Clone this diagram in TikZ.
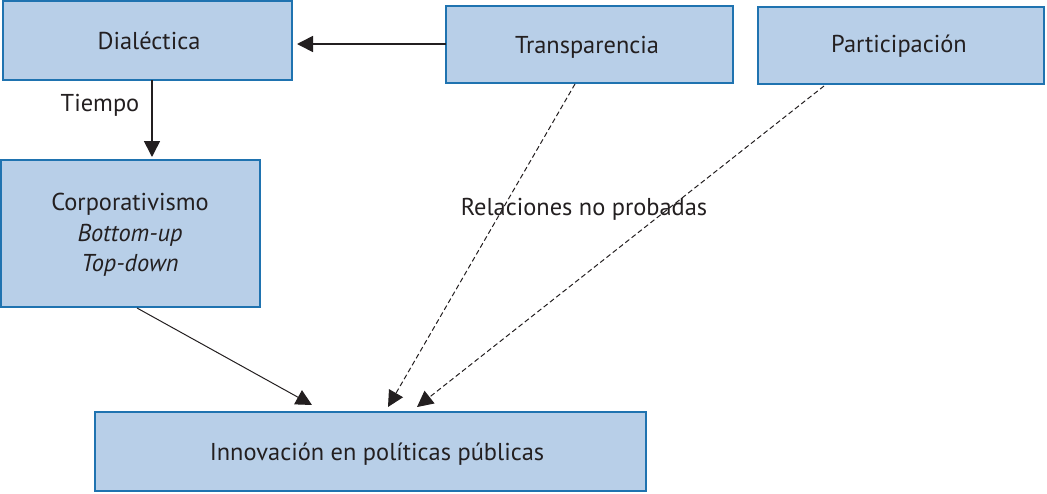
\documentclass[tikz,border=0pt]{standalone}
\usepackage{fontspec}
\setmainfont{PT Sans}
\usetikzlibrary{arrows.meta,calc}
\definecolor{boxfill}{HTML}{B8CFE8}
\definecolor{boxline}{HTML}{1F73B0}
\definecolor{txt}{HTML}{231F20}
\begin{document}
\begin{tikzpicture}[x=1pt,y=-1pt,
  box/.style={draw=boxline,line width=2pt,fill=boxfill,inner sep=0pt},
  lbl/.style={text=txt,font=\fontsize{24.4}{30.5}\selectfont,inner sep=0pt,align=center},
  arr/.style={draw=txt,-{Triangle[length=16pt,width=16pt]}},
  dsh/.style={arr,dash pattern=on 5pt off 3pt}]
\useasboundingbox (0,0) rectangle (1047,493);
% boxes
\path[box] (3,1) rectangle (292,80);
\path[box] (446,6) rectangle (733,83);
\path[box] (758,7) rectangle (1044,84);
\path[box] (1,160) rectangle (260,307);
\path[box] (95,412) rectangle (646,491);
\node[lbl] (dia) at (149,41) {Dialéctica};
\node[lbl] (tra) at (587,47) {Transparencia};
\node[lbl] (par) at (899,46) {Participación};
\node[lbl] (cor) at (130,235) {Corporativismo\\\textit{Bottom-up}\\\textit{Top-down}};
\node[lbl] (inn) at (377,454) {Innovación en políticas públicas};
\node[lbl] (tiempo) at (100,105) {Tiempo};
\node[lbl] (rel) at (584,209) {Relaciones no probadas};
% anchor points
\coordinate (traL) at (446,44);
\coordinate (diaR) at (297,44);
\coordinate (diaB) at (152,80);
\coordinate (corT) at (152,157);
\coordinate (corB) at (137,308);
\coordinate (innA) at (312,405);
\coordinate (traB) at (575,84);
\coordinate (innB) at (388,407);
\coordinate (parB) at (824,86);
\coordinate (innC) at (417,407);
% connectors
\draw[arr,line width=1.6pt] (traL) -- (diaR);
\draw[arr,line width=1.6pt] (diaB) -- (corT);
\draw[arr,line width=1pt] (corB) -- (innA);
\draw[dsh,line width=1pt] (traB) -- (innB);
\draw[dsh,line width=1pt] (parB) -- (innC);
\end{tikzpicture}
\end{document}
